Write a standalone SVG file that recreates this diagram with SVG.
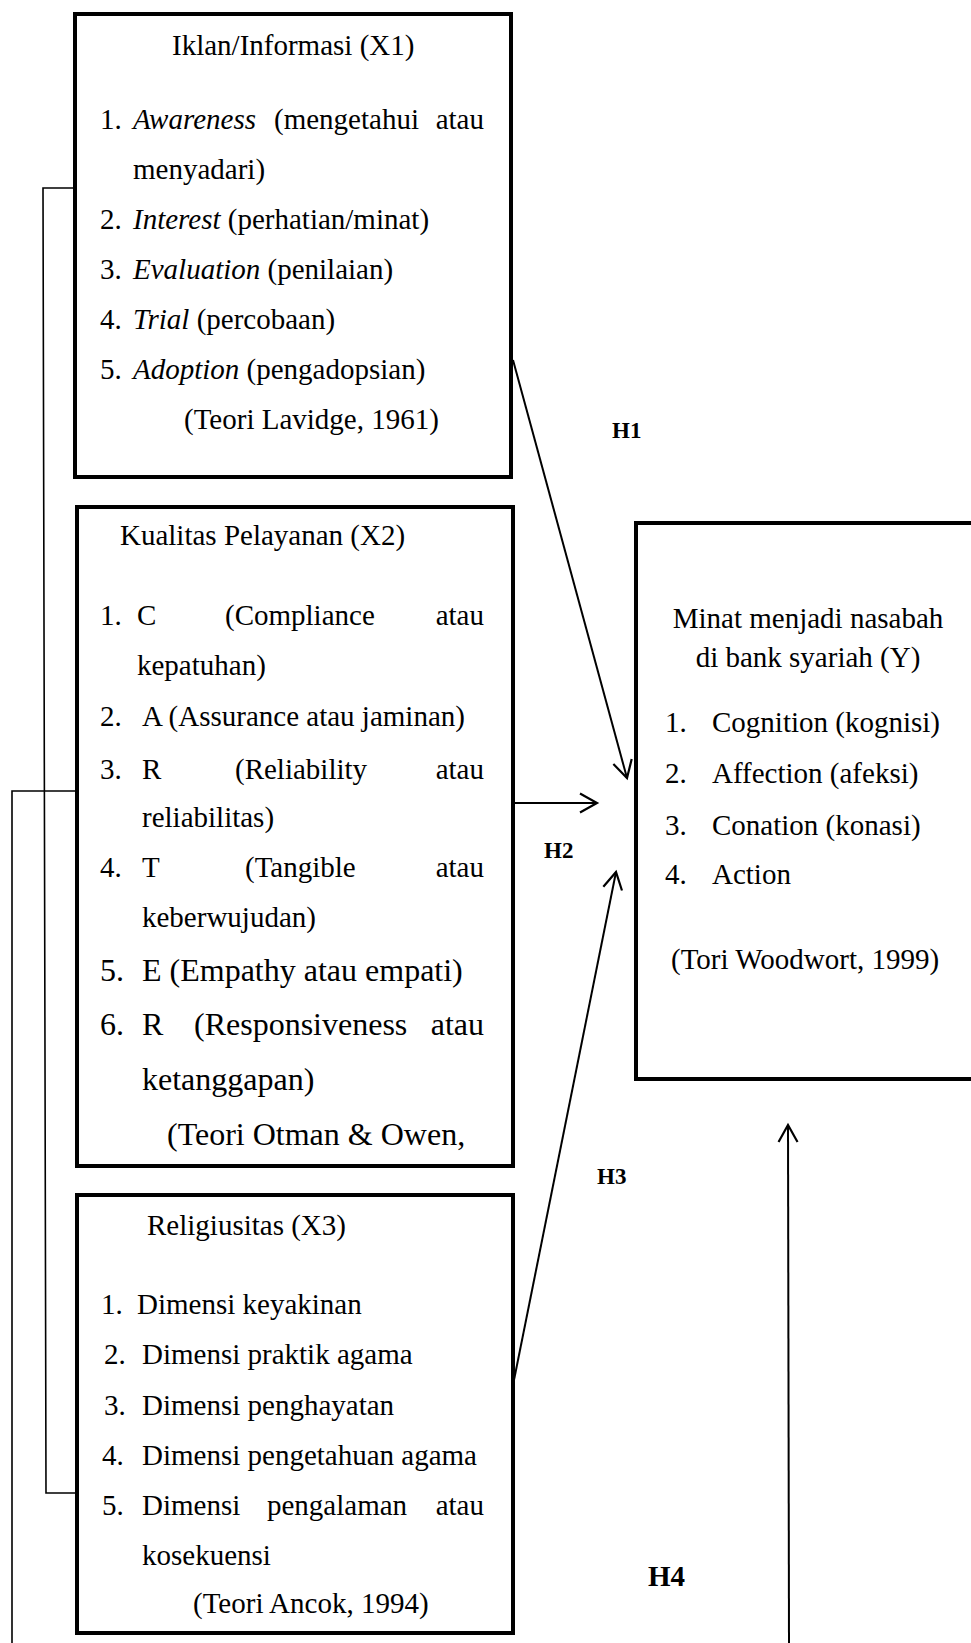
<svg xmlns="http://www.w3.org/2000/svg" width="971" height="1643" viewBox="0 0 971 1643">
<style>
  .box { fill: #fff; stroke: #000; stroke-width: 4; }
  .t { font-family: "Liberation Serif", "Times New Roman", serif; font-size: 29px; fill: #000; }
  .big { font-size: 32px; }
  .it { font-style: italic; }
  .end { text-anchor: end; }
  .mid { text-anchor: middle; }
  .lbl { font-family: "Liberation Serif", "Times New Roman", serif; font-weight: bold; font-size: 23px; fill: #000; }
  .conn { fill: none; stroke: #000; stroke-width: 2; }
  .br { fill: none; stroke: #000; stroke-width: 1.6; }
</style>
<defs>
  <marker id="arr" markerUnits="userSpaceOnUse" markerWidth="30" markerHeight="30" viewBox="-20 -15 30 30" refX="0" refY="0" orient="auto">
    <path d="M-17,-9.5 L0,0 L-17,9.5" fill="none" stroke="#000" stroke-width="2.2"/>
  </marker>
</defs>
<rect width="971" height="1643" fill="#fff"/>

<g id="connectors">
  <polyline class="br" points="75,188 43,188 46,1493 77,1493"/>
  <polyline class="br" points="77,791 12,791 12,1643"/>
  <line class="conn" x1="513" y1="360" x2="627" y2="778" marker-end="url(#arr)"/>
  <line class="conn" x1="513" y1="803" x2="597" y2="803" marker-end="url(#arr)"/>
  <line class="conn" x1="514" y1="1380" x2="616" y2="872" marker-end="url(#arr)"/>
  <line class="conn" x1="789" y1="1643" x2="788" y2="1125" marker-end="url(#arr)"/>
</g>

<g id="labels">
  <text class="lbl" x="612" y="438">H1</text>
  <text class="lbl" x="544" y="858">H2</text>
  <text class="lbl" x="597" y="1184">H3</text>
  <text class="lbl" x="648" y="1586" style="font-size:29px">H4</text>
</g>

<g id="node-x1">
  <rect class="box" x="75" y="14" width="436" height="463"/>
  <text class="t" x="172" y="55">Iklan/Informasi (X1)</text>
  <text class="t" x="100" y="129">1.</text>
  <text class="t it" x="133" y="129">Awareness</text>
  <text class="t" x="274" y="129">(mengetahui</text>
  <text class="t end" x="484" y="129">atau</text>
  <text class="t" x="133" y="179">menyadari)</text>
  <text class="t" x="100" y="229">2. <tspan x="133" class="it">Interest</tspan> (perhatian/minat)</text>
  <text class="t" x="100" y="279">3. <tspan x="133" class="it">Evaluation</tspan> (penilaian)</text>
  <text class="t" x="100" y="329">4. <tspan x="133" class="it">Trial</tspan> (percobaan)</text>
  <text class="t" x="100" y="379">5. <tspan x="133" class="it">Adoption</tspan> (pengadopsian)</text>
  <text class="t" x="184" y="429">(Teori Lavidge, 1961)</text>
</g>

<g id="node-x2">
  <rect class="box" x="77" y="507" width="436" height="659"/>
  <text class="t" x="120" y="545">Kualitas Pelayanan (X2)</text>
  <text class="t" x="100" y="625">1.</text>
  <text class="t" x="137" y="625">C</text>
  <text class="t" x="225" y="625">(Compliance</text>
  <text class="t end" x="484" y="625">atau</text>
  <text class="t" x="137" y="675">kepatuhan)</text>
  <text class="t" x="100" y="726">2.</text>
  <text class="t" x="142" y="726">A (Assurance atau jaminan)</text>
  <text class="t" x="100" y="779">3.</text>
  <text class="t" x="142" y="779">R</text>
  <text class="t" x="235" y="779">(Reliability</text>
  <text class="t end" x="484" y="779">atau</text>
  <text class="t" x="142" y="827">reliabilitas)</text>
  <text class="t" x="100" y="877">4.</text>
  <text class="t" x="142" y="877">T</text>
  <text class="t" x="245" y="877">(Tangible</text>
  <text class="t end" x="484" y="877">atau</text>
  <text class="t" x="142" y="927">keberwujudan)</text>
  <text class="t big" x="100" y="981">5.</text>
  <text class="t big" x="142" y="981">E (Empathy atau empati)</text>
  <text class="t big" x="100" y="1035">6.</text>
  <text class="t big" x="142" y="1035">R</text>
  <text class="t big" x="194" y="1035">(Responsiveness</text>
  <text class="t big end" x="484" y="1035">atau</text>
  <text class="t big" x="142" y="1090">ketanggapan)</text>
  <text class="t big" x="167" y="1145">(Teori Otman &amp; Owen,</text>
</g>

<g id="node-x3">
  <rect class="box" x="77" y="1195" width="436" height="438"/>
  <text class="t" x="147" y="1235">Religiusitas (X3)</text>
  <text class="t" x="101" y="1314">1.</text>
  <text class="t" x="137" y="1314">Dimensi keyakinan</text>
  <text class="t" x="104" y="1364">2.</text>
  <text class="t" x="142" y="1364">Dimensi praktik agama</text>
  <text class="t" x="104" y="1415">3.</text>
  <text class="t" x="142" y="1415">Dimensi penghayatan</text>
  <text class="t" x="102" y="1465">4.</text>
  <text class="t" x="142" y="1465">Dimensi pengetahuan agama</text>
  <text class="t" x="102" y="1515">5.</text>
  <text class="t" x="142" y="1515">Dimensi</text>
  <text class="t" x="267" y="1515">pengalaman</text>
  <text class="t end" x="484" y="1515">atau</text>
  <text class="t" x="142" y="1565">kosekuensi</text>
  <text class="t" x="193" y="1613">(Teori Ancok, 1994)</text>
</g>

<g id="node-y">
  <rect class="box" x="636" y="523" width="360" height="556"/>
  <text class="t mid" x="808" y="628">Minat menjadi nasabah</text>
  <text class="t mid" x="808" y="667">di bank syariah (Y)</text>
  <text class="t" x="665" y="732">1.</text>
  <text class="t" x="712" y="732">Cognition (kognisi)</text>
  <text class="t" x="665" y="783">2.</text>
  <text class="t" x="712" y="783">Affection (afeksi)</text>
  <text class="t" x="665" y="835">3.</text>
  <text class="t" x="712" y="835">Conation (konasi)</text>
  <text class="t" x="665" y="884">4.</text>
  <text class="t" x="712" y="884">Action</text>
  <text class="t" x="671" y="969">(Tori Woodwort, 1999)</text>
</g>
</svg>
